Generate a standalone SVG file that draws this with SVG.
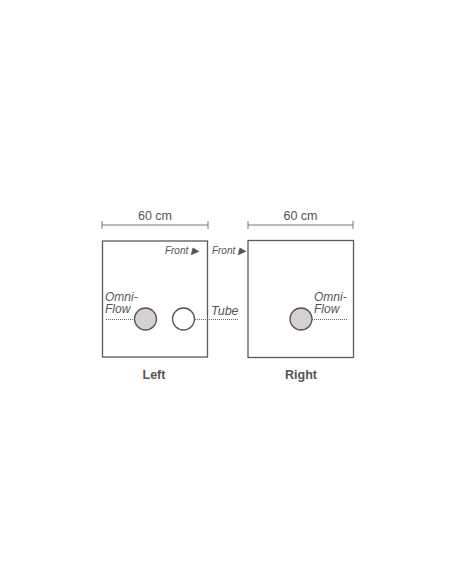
<svg xmlns="http://www.w3.org/2000/svg" width="452" height="584" viewBox="0 0 452 584">
<style>
.box{fill:#fff;stroke:#5a5a5a;stroke-width:1.3}
.dim{stroke:#777;stroke-width:1;fill:none}
.dot{stroke:#666;stroke-width:1;stroke-dasharray:1 1;fill:none}
.t{font-family:"Liberation Sans",Arial,sans-serif;fill:#555}
.it{font-family:"Liberation Sans",Arial,sans-serif;font-style:italic;fill:#555}
.cf{fill:#d6d0d0;stroke:#555;stroke-width:1.3}
.co{fill:#fff;stroke:#555;stroke-width:1.3}
</style>
<rect width="452" height="584" fill="#fff"/>
<g id="dims">
<path class="dim" d="M102 225H208M102 221V229M208 221V229"/>
<text class="t" x="155" y="220" font-size="12.5" text-anchor="middle">60 cm</text>
<path class="dim" d="M248 225H353M248 221V229M353 221V229"/>
<text class="t" x="300.5" y="220" font-size="12.5" text-anchor="middle">60 cm</text>
</g>
<g id="left">
<rect class="box" x="102.5" y="241" width="105" height="116"/>
<text class="it" x="199" y="254" font-size="10" text-anchor="end">Front ▶</text>
<text class="it" x="105" y="300.5" font-size="12">Omni-</text>
<text class="it" x="105" y="313" font-size="12">Flow</text>
<text class="t" x="154" y="379" font-size="12.5" font-weight="bold" text-anchor="middle">Left</text>
</g>
<g id="right">
<rect class="box" x="248" y="240.5" width="105.5" height="117"/>
<text class="it" x="246" y="253.5" font-size="10" text-anchor="end">Front ▶</text>
<text class="it" x="314" y="300.5" font-size="12">Omni-</text>
<text class="it" x="314" y="313" font-size="12">Flow</text>
<text class="t" x="301" y="379" font-size="12.5" font-weight="bold" text-anchor="middle">Right</text>
</g>
<g id="tube-label">
<text class="it" x="211" y="315" font-size="12.5">Tube</text>
</g>
<g id="connectors">
<path class="dot" d="M106 319.5H134M195 319.5H238M312 319.5H347"/>
</g>
<g id="omni-left"><circle class="cf" cx="145.5" cy="319" r="11"/></g>
<g id="tube"><circle class="co" cx="183.5" cy="319" r="11"/></g>
<g id="omni-right"><circle class="cf" cx="301" cy="319" r="11"/></g>
</svg>
